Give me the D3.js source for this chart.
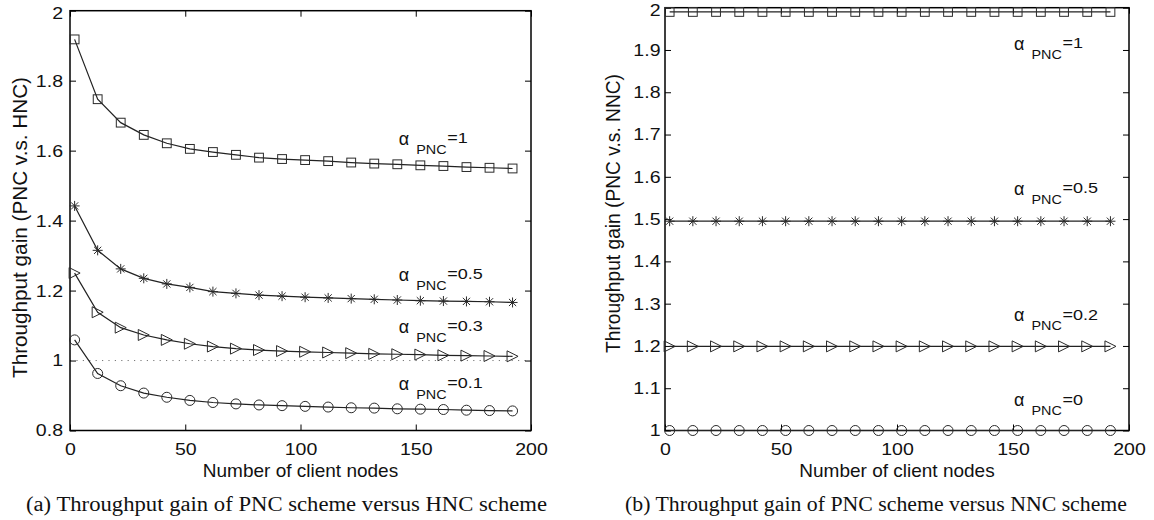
<!DOCTYPE html>
<html><head><meta charset="utf-8">
<script src="https://cdn.jsdelivr.net/npm/d3@7"></script>
<style>body{margin:0;background:#fff}</style></head>
<body>
<svg id="c" width="1154" height="520"></svg>
<script>
// ---------- data ----------
const clientNodes = [2,12,22,32,42,52,62,72,82,92,102,112,122,132,142,152,162,172,182,192];

// (a) PNC vs HNC
const hncAlpha1  = [1.918,1.747,1.680,1.645,1.621,1.605,1.596,1.588,1.580,1.576,1.573,1.570,1.566,1.563,1.561,1.558,1.556,1.553,1.551,1.549];
const hncAlpha05 = [1.442,1.315,1.262,1.235,1.219,1.209,1.197,1.192,1.187,1.184,1.181,1.179,1.177,1.175,1.173,1.171,1.170,1.169,1.168,1.166];
const hncAlpha03 = [1.250,1.138,1.094,1.073,1.059,1.048,1.040,1.034,1.030,1.027,1.025,1.023,1.021,1.019,1.018,1.017,1.015,1.014,1.013,1.012];
const hncAlpha01 = [1.059,0.963,0.928,0.907,0.895,0.886,0.880,0.876,0.873,0.871,0.869,0.867,0.865,0.864,0.862,0.861,0.860,0.858,0.857,0.856];

// (b) PNC vs NNC
const nncAlpha1  = [1.99,1.99,1.99,1.99,1.99,1.99,1.99,1.99,1.99,1.99,1.99,1.99,1.99,1.99,1.99,1.99,1.99,1.99,1.99,1.99];
const nncAlpha05 = [1.495,1.495,1.495,1.495,1.495,1.495,1.495,1.495,1.495,1.495,1.495,1.495,1.495,1.495,1.495,1.495,1.495,1.495,1.495,1.495];
const nncAlpha02 = [1.199,1.199,1.199,1.199,1.199,1.199,1.199,1.199,1.199,1.199,1.199,1.199,1.199,1.199,1.199,1.199,1.199,1.199,1.199,1.199];
const nncAlpha0  = [1,1,1,1,1,1,1,1,1,1,1,1,1,1,1,1,1,1,1,1];

const xTicks = [0,50,100,150,200];
const hncYTicks = [0.8,1,1.2,1.4,1.6,1.8,2];
const nncYTicks = [1,1.1,1.2,1.3,1.4,1.5,1.6,1.7,1.8,1.9,2];

const hncAlphaLabels = ["1","0.5","0.3","0.1"];
const hncLabelX = [142.6,142.6,142.6,142.6];
const hncLabelY = [1.617,1.228,1.079,0.917];
const nncAlphaLabels = ["1","0.5","0.2","0"];
const nncLabelX = [150.4,150.4,150.4,150.4];
const nncLabelY = [1.9005,1.558,1.258,1.057];

const hncRefLine = 1;

// ---------- drawing ----------
const svg = d3.select("#c");
const SANS = "'Liberation Sans', Arial, Helvetica, sans-serif";
const SERIF = "'Liberation Serif', 'Times New Roman', serif";
const TSX = 1.15; // tick text horizontal stretch
const ASX = 1.2;  // annotation stretch

function marker(g, type, x, y) {
  const st = {fill:"none", stroke:"#2a2a2a", "stroke-width":1};
  let el;
  if (type === "square") {
    el = g.append("rect").attr("x", x-4.4).attr("y", y-4.4).attr("width", 8.8).attr("height", 8.8);
  } else if (type === "circle") {
    el = g.append("circle").attr("cx", x).attr("cy", y).attr("r", 5);
  } else if (type === "tri") {
    el = g.append("path").attr("d", `M${x-5.5},${y-5.5}L${x-5.5},${y+5.5}L${x+5.5},${y}Z`);
  } else {
    const r = 5, d = 3.6;
    el = g.append("path").attr("d",
      `M${x-r},${y}H${x+r}M${x},${y-r}V${y+r}M${x-d},${y-d}L${x+d},${y+d}M${x-d},${y+d}L${x+d},${y-d}`);
  }
  for (const k in st) el.attr(k, st[k]);
}

function panel(cfg) {
  const g = svg.append("g");
  const x = d3.scaleLinear().domain([0,200]).range([cfg.left, cfg.right]);
  const y = d3.scaleLinear().domain(cfg.yDomain).range([cfg.bottom, cfg.top]);

  // reference line
  if (cfg.refLine !== undefined) {
    g.append("line").attr("x1", x(0)).attr("x2", x(200))
      .attr("y1", y(cfg.refLine)).attr("y2", y(cfg.refLine))
      .attr("stroke", "#777").attr("stroke-width", 1).attr("stroke-dasharray", "1.2,5.2");
  }

  // axes
  const ax = (axis, tr) => {
    const a = g.append("g").attr("transform", tr).call(axis);
    a.select(".domain").remove();
    a.selectAll(".tick line").attr("stroke", "#000").attr("stroke-width", 1);
    return a;
  };
  const bottom = ax(d3.axisBottom(x).tickValues(xTicks).tickSizeInner(-6).tickSizeOuter(0).tickPadding(12).tickFormat(d => String(d)),
    `translate(0,${cfg.bottom})`);
  bottom.selectAll("text").attr("fill", "#111").style("font-family", SANS).style("font-size", "17px")
    .attr("transform", `scale(${TSX},1)`);
  ax(d3.axisTop(x).tickValues(xTicks).tickSizeInner(-6).tickSizeOuter(0).tickFormat(""),
    `translate(0,${cfg.top})`);
  const left = ax(d3.axisLeft(y).tickValues(cfg.yTicks).tickSizeInner(-6).tickSizeOuter(0).tickPadding(cfg.yGap).tickFormat(d => String(d)),
    `translate(${cfg.left},0)`);
  left.selectAll("text").attr("fill", "#111").style("font-family", SANS).style("font-size", "17px")
    .attr("x", -cfg.yGap / TSX).attr("transform", `scale(${TSX},1)`)
    .attr("dy", d => (y(d) < 12 ? "0.45em" : "0.32em"));
  ax(d3.axisRight(y).tickValues(cfg.yTicks).tickSizeInner(-6).tickSizeOuter(0).tickFormat(""),
    `translate(${cfg.right},0)`);

  // box
  g.append("rect").attr("x", cfg.left).attr("y", cfg.top)
    .attr("width", cfg.right - cfg.left).attr("height", cfg.bottom - cfg.top)
    .attr("fill", "none").attr("stroke", "#000").attr("stroke-width", 1.5);

  // series
  const line = d3.line().x((d,i) => x(clientNodes[i])).y(d => y(d));
  cfg.series.forEach(s => {
    g.append("path").datum(s.values).attr("d", line)
      .attr("fill", "none").attr("stroke", "#222").attr("stroke-width", 1.2);
    s.values.forEach((v,i) => marker(g, s.marker, x(clientNodes[i]), y(v)));
  });

  // annotations
  cfg.labels.forEach((lab, i) => {
    const px = x(cfg.labelX[i]), py = y(cfg.labelY[i]);
    g.append("text").attr("x", px).attr("y", py)
      .style("font-family", SANS).style("font-size", "18px").attr("fill", "#111").text("α");
    g.append("text").attr("transform", `translate(${px + 17.5},${py + 9}) scale(${ASX},1)`)
      .style("font-family", SANS).style("font-size", "12px").attr("fill", "#111").text("PNC");
    g.append("text").attr("transform", `translate(${px + 48.5},${py - 1.5}) scale(${ASX},1)`)
      .style("font-family", SANS).style("font-size", "15px").attr("fill", "#111").text("=" + lab);
  });

  // axis labels
  g.append("text").attr("x", (cfg.left + cfg.right) / 2).attr("y", 476.5)
    .attr("text-anchor", "middle").style("font-family", SANS).style("font-size", "19px")
    .attr("fill", "#111").text("Number of client nodes");
  g.append("text").attr("transform", `translate(${cfg.yLabelX},${cfg.yLabelY}) rotate(-90)`)
    .attr("text-anchor", "middle").style("font-family", SANS).style("font-size", cfg.yLabelSize + "px")
    .attr("textLength", cfg.yLabelLen).attr("lengthAdjust", "spacingAndGlyphs")
    .attr("fill", "#111").text(cfg.yLabel);

  // caption
  g.append("text").attr("x", cfg.capX).attr("y", 511)
    .attr("text-anchor", "middle").style("font-family", SERIF).style("font-size", "20px")
    .attr("textLength", cfg.capLen).attr("lengthAdjust", "spacingAndGlyphs")
    .attr("fill", "#111").text(cfg.caption);
}

panel({
  left: 70, right: 531, top: 10.7, bottom: 430.5,
  yDomain: [0.8, 2], yTicks: hncYTicks, yGap: 7,
  refLine: hncRefLine,
  series: [
    {values: hncAlpha1, marker: "square"},
    {values: hncAlpha05, marker: "star"},
    {values: hncAlpha03, marker: "tri"},
    {values: hncAlpha01, marker: "circle"}
  ],
  labels: hncAlphaLabels, labelX: hncLabelX, labelY: hncLabelY,
  yLabel: "Throughput gain (PNC v.s. HNC)", yLabelX: 26.5, yLabelY: 227.5, yLabelSize: 20.5, yLabelLen: 301,
  caption: "(a) Throughput gain of PNC scheme versus HNC scheme", capX: 286.5, capLen: 521
});

panel({
  left: 665, right: 1129, top: 7.7, bottom: 430.5,
  yDomain: [1, 2], yTicks: nncYTicks, yGap: 4.5,
  series: [
    {values: nncAlpha1, marker: "square"},
    {values: nncAlpha05, marker: "star"},
    {values: nncAlpha02, marker: "tri"},
    {values: nncAlpha0, marker: "circle"}
  ],
  labels: nncAlphaLabels, labelX: nncLabelX, labelY: nncLabelY,
  yLabel: "Throughput gain (PNC v.s. NNC)", yLabelX: 620, yLabelY: 213.5, yLabelSize: 19.5, yLabelLen: 279,
  caption: "(b) Throughput gain of PNC scheme versus NNC scheme", capX: 876, capLen: 502
});
</script>
</body></html>
